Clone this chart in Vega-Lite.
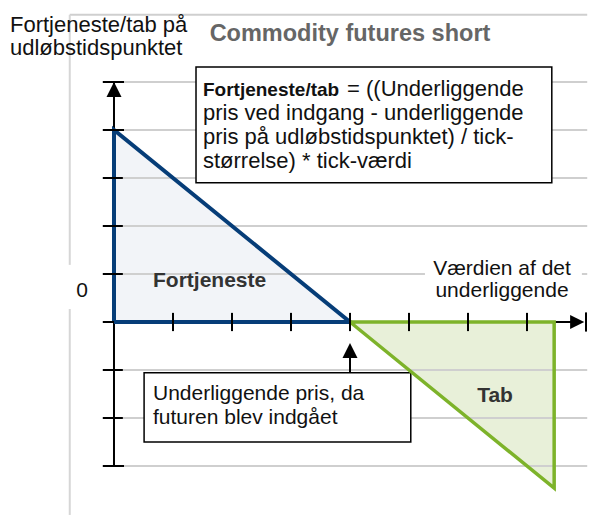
{
  "$schema": "https://vega.github.io/schema/vega-lite/v6.json",
  "width": 597,
  "height": 515,
  "padding": 0,
  "autosize": {"type": "none"},
  "background": "white",
  "view": {"stroke": null},
  "config": {"font": "Liberation Sans"},
  "datasets": {
    "hgrid": [
      {"x": -0.17, "x2": 8.02, "y": 5},
      {"x": -0.17, "x2": 8.02, "y": 4},
      {"x": -0.17, "x2": 8.02, "y": 3},
      {"x": -0.17, "x2": 8.02, "y": 2},
      {"x": -0.17, "x2": 8.02, "y": 1},
      {"x": -0.17, "x2": 8.02, "y": -1},
      {"x": -0.17, "x2": 8.02, "y": -2},
      {"x": -0.17, "x2": 8.02, "y": -3},
      {"x": -0.75, "x2": 8.02, "y": 6.4}
    ],
    "vgrid": [
      {"x": -0.75, "y": 6.4, "y2": 1.19},
      {"x": -0.75, "y": 0.27, "y2": -4.02}
    ],
    "axes": [
      {"x": 0, "x2": 0, "y": 5, "y2": -3},
      {"x": 0, "x2": 7.9, "y": 0, "y2": 0},
      {"x": 4, "x2": 4, "y": -0.6, "y2": -1.06}
    ],
    "ticks": [
      {"x": 1, "x2": 1, "y": 0.19, "y2": -0.19},
      {"x": 2, "x2": 2, "y": 0.19, "y2": -0.19},
      {"x": 3, "x2": 3, "y": 0.19, "y2": -0.19},
      {"x": 4, "x2": 4, "y": 0.19, "y2": -0.19},
      {"x": 5, "x2": 5, "y": 0.19, "y2": -0.19},
      {"x": 6, "x2": 6, "y": 0.19, "y2": -0.19},
      {"x": 7, "x2": 7, "y": 0.19, "y2": -0.19},
      {"x": 8.0, "x2": 8.0, "y": 0.2, "y2": -0.2},
      {"x": -0.19, "x2": 0.17, "y": 5, "y2": 5},
      {"x": -0.19, "x2": 0.17, "y": 4, "y2": 4},
      {"x": -0.19, "x2": 0.15, "y": 3, "y2": 3},
      {"x": -0.19, "x2": 0.15, "y": 2, "y2": 2},
      {"x": -0.19, "x2": 0.15, "y": 1, "y2": 1},
      {"x": -0.19, "x2": 0, "y": 0, "y2": 0},
      {"x": -0.19, "x2": 0.15, "y": -1, "y2": -1},
      {"x": -0.19, "x2": 0.15, "y": -2, "y2": -2},
      {"x": -0.19, "x2": 0.17, "y": -3, "y2": -3}
    ],
    "boxes": [
      {"x": 1.39, "x2": 7.42, "y": 5.31, "y2": 2.9},
      {"x": 0.51, "x2": 5.03, "y": -1.06, "y2": -2.5}
    ],
    "labelbg": [
      {"x": 5.27, "x2": 7.93, "y": 1.33, "y2": 0.46}
    ],
    "profitArea": [
      {"x": 0, "y": 4, "y2": 0},
      {"x": 4, "y": 0, "y2": 0}
    ],
    "lossArea": [
      {"x": 4, "y": 0, "y2": 0},
      {"x": 7.46, "y": -3.46, "y2": 0}
    ],
    "profitLine": [
      {"x": 0, "y": 0, "o": 1},
      {"x": 0, "y": 4, "o": 2},
      {"x": 4, "y": 0, "o": 3},
      {"x": 0, "y": 0, "o": 4}
    ],
    "lossLine": [
      {"x": 4, "y": 0, "o": 1},
      {"x": 7.46, "y": 0, "o": 2},
      {"x": 7.46, "y": -3.46, "o": 3},
      {"x": 4, "y": 0, "o": 4}
    ],
    "upArrows": [
      {"x": 0, "y": 5},
      {"x": 4, "y": -0.44}
    ],
    "rightArrows": [
      {"x": 7.97, "y": 0}
    ]
  },
  "layer": [
    {
      "data": {"name": "profitArea"},
      "mark": {"type": "area", "color": "#f2f4f8", "opacity": 1},
      "encoding": {
        "x": {"field": "x", "type": "quantitative", "scale": {"domain": [-1.932, 8.186], "nice": false, "zero": false}, "axis": null},
        "y": {"field": "y", "type": "quantitative", "scale": {"domain": [-4.021, 6.708], "nice": false, "zero": false}, "axis": null},
        "y2": {"field": "y2"}
      }
    },
    {
      "data": {"name": "lossArea"},
      "mark": {"type": "area", "color": "#e8f0d9", "opacity": 1},
      "encoding": {
        "x": {"field": "x", "type": "quantitative"},
        "y": {"field": "y", "type": "quantitative"},
        "y2": {"field": "y2"}
      }
    },
    {
      "data": {"name": "hgrid"},
      "mark": {"type": "rule", "color": "#cfcfcf", "strokeWidth": 2},
      "encoding": {
        "x": {"field": "x", "type": "quantitative"},
        "x2": {"field": "x2"},
        "y": {"field": "y", "type": "quantitative"}
      }
    },
    {
      "data": {"name": "vgrid"},
      "mark": {"type": "rule", "color": "#d6d6d6", "strokeWidth": 2},
      "encoding": {
        "x": {"field": "x", "type": "quantitative"},
        "y": {"field": "y", "type": "quantitative"},
        "y2": {"field": "y2"}
      }
    },
    {
      "data": {"name": "labelbg"},
      "mark": {"type": "rect", "fill": "white", "stroke": null},
      "encoding": {
        "x": {"field": "x", "type": "quantitative"},
        "x2": {"field": "x2"},
        "y": {"field": "y", "type": "quantitative"},
        "y2": {"field": "y2"}
      }
    },
    {
      "data": {"name": "boxes"},
      "mark": {"type": "rect", "fill": "white", "stroke": "black", "strokeWidth": 1.5},
      "encoding": {
        "x": {"field": "x", "type": "quantitative"},
        "x2": {"field": "x2"},
        "y": {"field": "y", "type": "quantitative"},
        "y2": {"field": "y2"}
      }
    },
    {
      "data": {"name": "axes"},
      "mark": {"type": "rule", "color": "black", "strokeWidth": 2},
      "encoding": {
        "x": {"field": "x", "type": "quantitative"},
        "x2": {"field": "x2"},
        "y": {"field": "y", "type": "quantitative"},
        "y2": {"field": "y2"}
      }
    },
    {
      "data": {"name": "profitLine"},
      "mark": {"type": "line", "color": "#063d78", "strokeWidth": 4, "strokeJoin": "miter"},
      "encoding": {
        "x": {"field": "x", "type": "quantitative"},
        "y": {"field": "y", "type": "quantitative"},
        "order": {"field": "o"}
      }
    },
    {
      "data": {"name": "lossLine"},
      "mark": {"type": "line", "color": "#7db32a", "strokeWidth": 3.5, "strokeJoin": "miter"},
      "encoding": {
        "x": {"field": "x", "type": "quantitative"},
        "y": {"field": "y", "type": "quantitative"},
        "order": {"field": "o"}
      }
    },
    {
      "data": {"name": "ticks"},
      "mark": {"type": "rule", "color": "black", "strokeWidth": 2},
      "encoding": {
        "x": {"field": "x", "type": "quantitative"},
        "x2": {"field": "x2"},
        "y": {"field": "y", "type": "quantitative"},
        "y2": {"field": "y2"}
      }
    },
    {
      "data": {"name": "upArrows"},
      "mark": {"type": "point", "shape": "M0,0L-1,2L1,2Z", "size": 225, "filled": true, "color": "black", "opacity": 1},
      "encoding": {
        "x": {"field": "x", "type": "quantitative"},
        "y": {"field": "y", "type": "quantitative"}
      }
    },
    {
      "data": {"name": "rightArrows"},
      "mark": {"type": "point", "shape": "M0,0L-2,-1L-2,1Z", "size": 200, "filled": true, "color": "black", "opacity": 1},
      "encoding": {
        "x": {"field": "x", "type": "quantitative"},
        "y": {"field": "y", "type": "quantitative"}
      }
    },
    {
      "data": {"values": [
        {"x": -1.763, "y": 6.04, "t": ["Fortjeneste/tab på", "udløbstidspunktet"]}
      ]},
      "mark": {"type": "text", "align": "left", "baseline": "alphabetic", "fontSize": 22, "lineHeight": 23, "color": "#111111"},
      "encoding": {
        "x": {"field": "x", "type": "quantitative"},
        "y": {"field": "y", "type": "quantitative"},
        "text": {"field": "t"}
      }
    },
    {
      "data": {"values": [
        {"x": 1.508, "y": 4.208, "t": ["pris ved indgang - underliggende", "pris på udløbstidspunktet) / tick-", "størrelse) * tick-værdi"]},
        {"x": 3.95, "y": 4.708, "t": "= ((Underliggende"}
      ]},
      "mark": {"type": "text", "align": "left", "baseline": "alphabetic", "fontSize": 22, "lineHeight": 24, "color": "#111111"},
      "encoding": {
        "x": {"field": "x", "type": "quantitative"},
        "y": {"field": "y", "type": "quantitative"},
        "text": {"field": "t"}
      }
    },
    {
      "data": {"values": [
        {"x": 0.661, "y": -1.625, "t": ["Underliggende pris, da", "futuren blev indgået"]}
      ]},
      "mark": {"type": "text", "align": "left", "baseline": "alphabetic", "fontSize": 21, "lineHeight": 24, "color": "#111111"},
      "encoding": {
        "x": {"field": "x", "type": "quantitative"},
        "y": {"field": "y", "type": "quantitative"},
        "text": {"field": "t"}
      }
    },
    {
      "data": {"values": [
        {"x": 1.508, "y": 4.708, "t": "Fortjeneste/tab"}
      ]},
      "mark": {"type": "text", "align": "left", "baseline": "alphabetic", "fontSize": 19, "fontWeight": "bold", "color": "#111111"},
      "encoding": {
        "x": {"field": "x", "type": "quantitative"},
        "y": {"field": "y", "type": "quantitative"},
        "text": {"field": "t"}
      }
    },
    {
      "data": {"values": [
        {"x": 6.576, "y": 0.979, "t": ["Værdien af det", "underliggende"]},
        {"x": -0.542, "y": 0.52, "t": "0"}
      ]},
      "mark": {"type": "text", "align": "center", "baseline": "alphabetic", "fontSize": 21, "lineHeight": 22, "color": "#111111"},
      "encoding": {
        "x": {"field": "x", "type": "quantitative"},
        "y": {"field": "y", "type": "quantitative"},
        "text": {"field": "t"}
      }
    },
    {
      "data": {"values": [
        {"x": 1.62, "y": 0.729, "t": "Fortjeneste"},
        {"x": 6.458, "y": -1.667, "t": "Tab"}
      ]},
      "mark": {"type": "text", "align": "center", "baseline": "alphabetic", "fontSize": 21, "fontWeight": "bold", "color": "#333333"},
      "encoding": {
        "x": {"field": "x", "type": "quantitative"},
        "y": {"field": "y", "type": "quantitative"},
        "text": {"field": "t"}
      }
    },
    {
      "data": {"values": [
        {"x": 4.0, "y": 5.854, "t": "Commodity futures short"}
      ]},
      "mark": {"type": "text", "align": "center", "baseline": "alphabetic", "fontSize": 23.5, "fontWeight": "bold", "color": "#666666"},
      "encoding": {
        "x": {"field": "x", "type": "quantitative"},
        "y": {"field": "y", "type": "quantitative"},
        "text": {"field": "t"}
      }
    }
  ]
}
